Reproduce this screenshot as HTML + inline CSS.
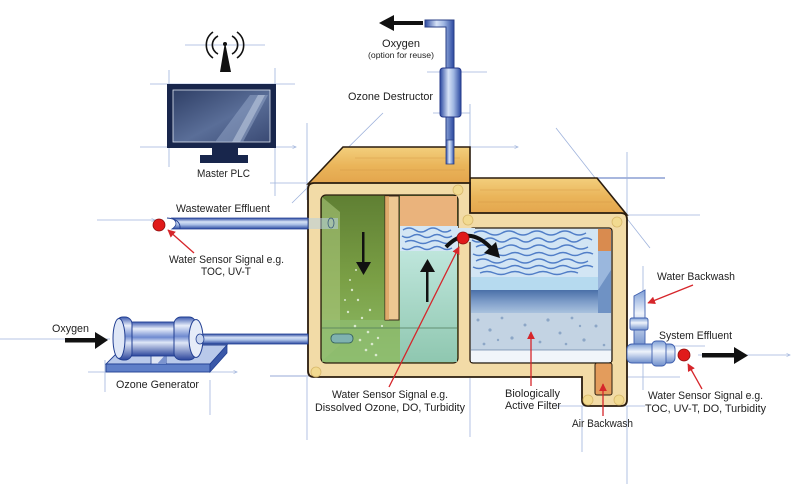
<!DOCTYPE html>
<html><head><meta charset="utf-8"><style>
html,body{margin:0;padding:0;background:#fff;}
svg{display:block;}
text{font-family:"Liberation Sans",sans-serif;fill:#1e1e1e;font-size:11px;}
</style></head><body>
<svg width="800" height="484" viewBox="0 0 800 484" xmlns="http://www.w3.org/2000/svg">
<defs>
<marker id="r" viewBox="0 0 10 10" refX="9" refY="5" markerWidth="6" markerHeight="6" orient="auto"><path d="M0,0L10,5L0,10z" fill="#d6262b"/></marker>
<marker id="c" viewBox="0 0 10 10" refX="9" refY="5" markerWidth="5" markerHeight="5" orient="auto"><path d="M0,1L10,5L0,9" fill="none" stroke="#8fa6d6" stroke-width="1.5"/></marker>
<linearGradient id="top" x1="0" y1="0" x2="0" y2="1"><stop offset="0" stop-color="#f3cf7d"/><stop offset="0.5" stop-color="#eab55a"/><stop offset="1" stop-color="#e3a44c"/></linearGradient>
<linearGradient id="pipeH" x1="0" y1="0" x2="0" y2="1"><stop offset="0" stop-color="#2a48a0"/><stop offset="0.35" stop-color="#d6e2f6"/><stop offset="0.6" stop-color="#a9bfe6"/><stop offset="1" stop-color="#2a48a0"/></linearGradient>
<linearGradient id="pipeV" x1="0" y1="0" x2="1" y2="0"><stop offset="0" stop-color="#2a48a0"/><stop offset="0.4" stop-color="#d6e2f6"/><stop offset="0.65" stop-color="#9fb6e2"/><stop offset="1" stop-color="#2a48a0"/></linearGradient>
<linearGradient id="pipeL" x1="0" y1="0" x2="0" y2="1"><stop offset="0" stop-color="#7e9fd6"/><stop offset="0.4" stop-color="#eef3fb"/><stop offset="1" stop-color="#6f8fcc"/></linearGradient>
<linearGradient id="cyl" x1="0" y1="0" x2="0" y2="1"><stop offset="0" stop-color="#3c5ab0"/><stop offset="0.2" stop-color="#e8eefa"/><stop offset="0.45" stop-color="#6f8ad0"/><stop offset="0.6" stop-color="#dfe7f7"/><stop offset="1" stop-color="#2c469c"/></linearGradient>
<linearGradient id="grn" x1="0" y1="0" x2="0" y2="1"><stop offset="0" stop-color="#5f7f33"/><stop offset="0.5" stop-color="#7a9f45"/><stop offset="1" stop-color="#8fbd6a"/></linearGradient>
<linearGradient id="teal" x1="0" y1="0" x2="0" y2="1"><stop offset="0" stop-color="#bfe6dc"/><stop offset="1" stop-color="#8fc7b0"/></linearGradient>
<linearGradient id="stripe" x1="0" y1="0" x2="0" y2="1"><stop offset="0" stop-color="#4a6fa8"/><stop offset="0.5" stop-color="#7c9cc8"/><stop offset="1" stop-color="#a9c2de"/></linearGradient>
<linearGradient id="scr" x1="0" y1="0" x2="1" y2="1"><stop offset="0" stop-color="#2f3f66"/><stop offset="0.55" stop-color="#5a6e98"/><stop offset="1" stop-color="#3a4a74"/></linearGradient>
</defs>

<!-- construction lines -->
<g stroke="#8fa6d6" stroke-width="0.8" fill="none" opacity="0.85">
<line x1="150" y1="84" x2="295" y2="84"/>
<line x1="140" y1="147" x2="296" y2="147" marker-end="url(#c)"/>
<line x1="169" y1="70" x2="169" y2="167"/>
<line x1="275" y1="68" x2="275" y2="196"/>
<line x1="270" y1="183" x2="308" y2="183"/>
<line x1="307" y1="123" x2="307" y2="200"/>
<line x1="383" y1="113" x2="292" y2="203"/>
<line x1="185" y1="45" x2="265" y2="45"/>
<line x1="97" y1="220" x2="155" y2="220" marker-end="url(#c)"/>
<line x1="427" y1="72" x2="487" y2="72"/>
<line x1="433" y1="113" x2="470" y2="113"/>
<line x1="470" y1="104" x2="470" y2="147"/>
<line x1="470" y1="147" x2="518" y2="147" marker-end="url(#c)"/>
<line x1="556" y1="128" x2="650" y2="248"/>
<line x1="597" y1="178" x2="665" y2="178" stroke="#5c78c0" stroke-width="1.2"/>
<line x1="627" y1="152" x2="627" y2="215"/>
<line x1="627" y1="215" x2="700" y2="215"/>
<line x1="0" y1="339" x2="110" y2="339"/>
<line x1="88" y1="372" x2="237" y2="372" marker-end="url(#c)"/>
<line x1="105" y1="360" x2="105" y2="392"/>
<line x1="210" y1="380" x2="210" y2="415"/>
<line x1="270" y1="376" x2="310" y2="376" stroke="#5c78c0"/>
<line x1="307" y1="377" x2="307" y2="440"/>
<line x1="470" y1="378" x2="470" y2="437"/>
<line x1="582" y1="406" x2="582" y2="452"/>
<line x1="556" y1="406" x2="645" y2="406"/>
<line x1="627" y1="406" x2="627" y2="484"/>
<line x1="643" y1="266" x2="643" y2="390"/>
<line x1="628" y1="377" x2="680" y2="377"/>
<line x1="698" y1="355" x2="790" y2="355" marker-end="url(#c)"/>
<line x1="660" y1="346" x2="705" y2="346"/>
</g>

<!-- antenna -->
<g fill="none" stroke="#111" stroke-width="1.6">
<path d="M218,36 A10,10 0 0 0 218,54"/><path d="M232,36 A10,10 0 0 1 232,54"/>
<path d="M213,32 A16,16 0 0 0 213,58"/><path d="M237,32 A16,16 0 0 1 237,58"/>
</g>
<polygon points="225,42 220,72 231,72" fill="#111"/>
<circle cx="225" cy="44" r="2" fill="#111"/>

<!-- monitor -->
<rect x="167" y="84" width="109" height="64" fill="#18264c"/>
<rect x="173" y="90" width="97" height="52" fill="url(#scr)" stroke="#dfe6f2" stroke-width="0.8"/>
<polygon points="215,142 243,142 268,95 250,95" fill="#8fa2c4" opacity="0.55"/>
<polygon points="232,142 240,142 265,95 258,95" fill="#c7d3e6" opacity="0.5"/>
<rect x="212" y="148" width="26" height="7" fill="#18264c"/>
<rect x="200" y="155" width="48" height="8" fill="#18264c"/>

<!-- ozone destructor -->
<path d="M425,20 L454,20 L454,164 L446,164 L446,27 L425,27 Z" fill="url(#pipeV)" stroke="#2a3f86" stroke-width="1"/>
<rect x="440" y="68" width="21" height="49" rx="3" fill="url(#pipeV)" stroke="#24388a" stroke-width="1"/>
<polygon points="379,23 394,15 394,31" fill="#111"/>
<rect x="393" y="21" width="30" height="4" fill="#111"/>

<!-- tank top faces -->
<polygon points="470,178 597,178 627,215 470,215" fill="url(#top)" stroke="#2a1c0e" stroke-width="1.6"/>
<polygon points="308,184 343,147 470,147 470,184" fill="url(#top)" stroke="#2a1c0e" stroke-width="1.6"/>
<g stroke="#c9873a" stroke-width="0.6" opacity="0.6">
<line x1="355" y1="158" x2="460" y2="158"/><line x1="340" y1="170" x2="465" y2="170"/>
<line x1="480" y1="190" x2="600" y2="190"/><line x1="478" y1="202" x2="612" y2="202"/>
</g>
<rect x="446" y="140" width="8" height="24" fill="url(#pipeV)" stroke="#2a3f86" stroke-width="0.8"/>

<!-- front face -->
<path d="M314,183 L470,183 L470,213 L621,213 Q627,213 627,219 L627,400 Q627,406 621,406 L588,406 Q582,406 582,400 L582,377 L314,377 Q308,377 308,371 L308,189 Q308,183 314,183 Z" fill="#f2dba7" stroke="#2a1c0e" stroke-width="1.8"/>

<!-- left chamber -->
<rect x="321" y="195" width="137" height="168" rx="5" fill="url(#grn)" stroke="#2a1c0e" stroke-width="1.3"/>
<polygon points="322,197 340,212 340,345 322,361" fill="#a9c57a" opacity="0.6"/>
<rect x="400" y="196" width="57" height="30" fill="#eab37c"/>
<rect x="400" y="250" width="57" height="112" fill="url(#teal)"/>
<rect x="322" y="320" width="78" height="42" fill="#8fbd72" opacity="0.7"/>
<line x1="322" y1="328" x2="457" y2="328" stroke="#4f7a5a" stroke-width="0.8"/>
<g fill="#e8f3e0" opacity="0.85">
<circle cx="352" cy="290" r="1.2"/><circle cx="358" cy="300" r="1.2"/><circle cx="348" cy="312" r="1.2"/><circle cx="362" cy="318" r="1.2"/><circle cx="355" cy="326" r="1.3"/><circle cx="368" cy="332" r="1.3"/><circle cx="360" cy="340" r="1.3"/><circle cx="372" cy="344" r="1.3"/><circle cx="366" cy="350" r="1.3"/><circle cx="378" cy="338" r="1.2"/><circle cx="350" cy="280" r="1"/><circle cx="370" cy="310" r="1.2"/><circle cx="382" cy="326" r="1.1"/><circle cx="376" cy="355" r="1.3"/><circle cx="345" cy="300" r="1"/><circle cx="356" cy="270" r="1"/>
</g>
<rect x="385" y="196" width="14" height="124" fill="#edc892" stroke="#3a2a1a" stroke-width="1"/>
<rect x="385" y="196" width="4" height="124" fill="#d99d5c" opacity="0.7"/>
<rect x="331" y="334" width="22" height="9" rx="4" fill="#7fb2b0" stroke="#2f5a58" stroke-width="0.8"/>
<rect x="308" y="218" width="30" height="11" fill="#b7cfe0" opacity="0.55"/>
<ellipse cx="331" cy="223" rx="3" ry="5" fill="none" stroke="#3a5a7a" stroke-width="0.8"/>

<!-- right chamber -->
<rect x="470" y="228" width="142" height="135" rx="3" fill="#d2e5f4" stroke="#2a1c0e" stroke-width="1.3"/>
<rect x="598" y="229" width="13" height="22" fill="#d98b4f"/>
<rect x="598" y="251" width="13" height="62" fill="#9ab7dd"/>
<rect x="471" y="277" width="127" height="13" fill="#b6daef"/>
<rect x="471" y="290" width="127" height="23" fill="url(#stripe)"/>
<polygon points="598,290 611,270 611,313 598,313" fill="#6f92c4"/>
<rect x="471" y="313" width="140" height="37" fill="#c3d3e3"/>
<g fill="#7f9cc0" opacity="0.8">
<circle cx="478" cy="320" r="1.5"/><circle cx="490" cy="330" r="1.6"/><circle cx="502" cy="318" r="1.4"/><circle cx="512" cy="338" r="1.6"/><circle cx="525" cy="325" r="1.5"/><circle cx="540" cy="342" r="1.4"/><circle cx="548" cy="320" r="1.6"/><circle cx="560" cy="333" r="1.5"/><circle cx="572" cy="318" r="1.4"/><circle cx="584" cy="340" r="1.6"/><circle cx="596" cy="326" r="1.5"/><circle cx="604" cy="345" r="1.3"/><circle cx="484" cy="344" r="1.4"/><circle cx="498" cy="340" r="1.2"/><circle cx="530" cy="335" r="1.2"/><circle cx="566" cy="344" r="1.3"/><circle cx="580" cy="326" r="1.2"/>
</g>
<rect x="471" y="350" width="140" height="12" fill="#f1f5fa"/>
<line x1="471" y1="350" x2="611" y2="350" stroke="#6d86a8" stroke-width="0.8"/>

<!-- foam -->
<rect x="400" y="226" width="58" height="25" fill="#d4e6f4"/>
<rect x="445" y="228" width="30" height="14" fill="#d4e6f4"/>
<g fill="none" stroke="#3b6dc0" stroke-width="1.4" opacity="0.85">
<path d="M403,230 q6,-4 12,0 t12,0 t12,0 t12,0"/>
<path d="M402,236 q5,3 10,0 t10,0 t10,0 t10,0 t10,0"/>
<path d="M405,242 q6,-3 12,0 t12,0 t12,0 t12,0"/>
<path d="M402,248 q5,3 10,0 t10,0 t10,0 t10,0 t10,0"/>
<path d="M474,233 q7,-4 14,0 t14,0 t14,0 t14,0 t14,0 t14,0 t14,0 t14,0"/>
<path d="M472,240 q6,4 12,0 t12,0 t12,0 t12,0 t12,0 t12,0 t12,0 t12,0 t12,0 t12,0"/>
<path d="M476,247 q7,-4 14,0 t14,0 t14,0 t14,0 t14,0 t14,0 t14,0 t14,0"/>
<path d="M473,254 q6,3 12,0 t12,0 t12,0 t12,0 t12,0 t12,0 t12,0 t12,0 t12,0 t12,0"/>
<path d="M476,261 q7,-4 14,0 t14,0 t14,0 t14,0 t14,0 t14,0 t14,0 t14,0"/>
<path d="M473,267 q6,3 12,0 t12,0 t12,0 t12,0 t12,0 t12,0 t12,0 t12,0 t12,0 t12,0"/>
<path d="M480,273 q7,-3 14,0 t14,0 t14,0 t14,0 t14,0 t14,0 t14,0"/>
</g>

<!-- sump slot -->
<rect x="595" y="363" width="17" height="32" rx="2" fill="#e39c5c" stroke="#2a1c0e" stroke-width="1"/>

<!-- frame corner circles -->
<g fill="#f3da8e" stroke="#d5b565" stroke-width="0.8" opacity="0.9">
<circle cx="316" cy="372" r="5"/><circle cx="458" cy="190" r="5"/><circle cx="468" cy="220" r="5"/><circle cx="617" cy="222" r="5"/><circle cx="588" cy="400" r="5"/><circle cx="619" cy="400" r="5"/>
</g>

<!-- flow arrows -->
<rect x="362" y="232" width="2.5" height="32" fill="#111"/>
<polygon points="356,262 371,262 363.5,275" fill="#111"/>
<rect x="426" y="270" width="2.5" height="32" fill="#111"/>
<polygon points="420,272 435,272 427.5,259" fill="#111"/>
<path d="M446,247 Q468,224 491,248" fill="none" stroke="#111" stroke-width="4"/>
<polygon points="500,258 484,253 496,242" fill="#111"/>
<circle cx="463" cy="238" r="6" fill="#e01a1a" stroke="#8a0d0d" stroke-width="0.8"/>

<!-- wastewater pipe -->
<path d="M172,218 L308,218 L308,229 L172,229 Q180,223.5 172,218 Z" fill="url(#pipeH)" stroke="#223f92" stroke-width="0.8"/>
<path d="M167,218 Q181,219 180,229" fill="none" stroke="#223f92" stroke-width="0.9"/>
<circle cx="159" cy="225" r="6" fill="#e01a1a" stroke="#8a0d0d" stroke-width="0.8"/>

<!-- ozone generator -->
<rect x="198" y="334" width="110" height="10" fill="url(#pipeH)" stroke="#223f92" stroke-width="0.8"/>
<polygon points="106,364 210,364 227,345 198,345 198,350 120,350" fill="#b9c9ea" stroke="#223f92" stroke-width="0.9"/>
<rect x="106" y="364" width="104" height="8" fill="#5f7fc8" stroke="#223f92" stroke-width="0.9"/>
<polygon points="210,364 227,345 227,353 210,372" fill="#3a58a8" stroke="#223f92" stroke-width="0.8"/>
<polygon points="151,364 151,345 166,345 166,364" fill="#dfe6f4" stroke="#223f92" stroke-width="0.8"/>
<polygon points="157,364 166,354 166,364" fill="#7b93cf"/>
<rect x="128" y="322" width="48" height="34" fill="url(#cyl)" stroke="#223f92" stroke-width="0.9"/>
<rect x="116" y="317" width="16" height="43" rx="7" fill="url(#cyl)" stroke="#223f92" stroke-width="1"/>
<ellipse cx="119" cy="338.5" rx="6" ry="20" fill="#dfe7f7" stroke="#223f92" stroke-width="1"/>
<rect x="174" y="317" width="22" height="43" rx="7" fill="url(#cyl)" stroke="#223f92" stroke-width="1"/>
<ellipse cx="196" cy="338.5" rx="7" ry="19" fill="#e6ecf8" stroke="#223f92" stroke-width="1"/>
<ellipse cx="200" cy="339" rx="4" ry="5" fill="#c9d6ef" stroke="#223f92" stroke-width="0.8"/>
<rect x="65" y="338" width="32" height="4.5" fill="#111"/>
<polygon points="95,332 95,349 108,340" fill="#111"/>

<!-- right fittings -->
<path d="M634,296 L645,290 L645,348 L634,348 Z" fill="url(#pipeL)" stroke="#3f5fae" stroke-width="0.9"/>
<rect x="630" y="318" width="18" height="12" rx="2" fill="url(#pipeL)" stroke="#3f5fae" stroke-width="0.9"/>
<rect x="627" y="344" width="48" height="19" rx="5" fill="url(#pipeL)" stroke="#3f5fae" stroke-width="0.9"/>
<rect x="652" y="341" width="14" height="25" rx="4" fill="url(#pipeL)" stroke="#3f5fae" stroke-width="0.9"/>
<circle cx="684" cy="355" r="6" fill="#e01a1a" stroke="#8a0d0d" stroke-width="0.8"/>
<rect x="702" y="353" width="34" height="4.5" fill="#111"/>
<polygon points="734,347 734,364 748,355.5" fill="#111"/>

<!-- red leaders -->
<g stroke="#d6262b" stroke-width="1.3" fill="none" marker-end="url(#r)">
<line x1="194" y1="253" x2="168" y2="230"/>
<line x1="389" y1="387" x2="459" y2="247"/>
<line x1="531" y1="386" x2="531" y2="332"/>
<line x1="603" y1="416" x2="603" y2="384"/>
<line x1="693" y1="285" x2="648" y2="303"/>
<line x1="702" y1="389" x2="688" y2="364"/>
</g>

<!-- labels -->
<text x="382" y="47" textLength="38" lengthAdjust="spacingAndGlyphs">Oxygen</text>
<text x="368" y="58" style="font-size:8px" textLength="66" lengthAdjust="spacingAndGlyphs">(option for reuse)</text>
<text x="348" y="100" textLength="85" lengthAdjust="spacingAndGlyphs">Ozone Destructor</text>
<text x="197" y="177" textLength="53" lengthAdjust="spacingAndGlyphs">Master PLC</text>
<text x="176" y="212" textLength="94" lengthAdjust="spacingAndGlyphs">Wastewater Effluent</text>
<text x="169" y="263" textLength="115" lengthAdjust="spacingAndGlyphs">Water Sensor Signal e.g.</text>
<text x="201" y="275" textLength="50" lengthAdjust="spacingAndGlyphs">TOC, UV-T</text>
<text x="52" y="332" textLength="37" lengthAdjust="spacingAndGlyphs">Oxygen</text>
<text x="116" y="388" textLength="83" lengthAdjust="spacingAndGlyphs">Ozone Generator</text>
<text x="332" y="398" textLength="116" lengthAdjust="spacingAndGlyphs">Water Sensor Signal e.g.</text>
<text x="315" y="411" textLength="150" lengthAdjust="spacingAndGlyphs">Dissolved Ozone, DO, Turbidity</text>
<text x="505" y="397" textLength="55" lengthAdjust="spacingAndGlyphs">Biologically</text>
<text x="505" y="409" textLength="56" lengthAdjust="spacingAndGlyphs">Active Filter</text>
<text x="572" y="427" textLength="61" lengthAdjust="spacingAndGlyphs">Air Backwash</text>
<text x="657" y="280" textLength="78" lengthAdjust="spacingAndGlyphs">Water Backwash</text>
<text x="659" y="339" textLength="73" lengthAdjust="spacingAndGlyphs">System Effluent</text>
<text x="648" y="399" textLength="115" lengthAdjust="spacingAndGlyphs">Water Sensor Signal e.g.</text>
<text x="645" y="412" textLength="121" lengthAdjust="spacingAndGlyphs">TOC, UV-T, DO, Turbidity</text>
</svg>
</body></html>
